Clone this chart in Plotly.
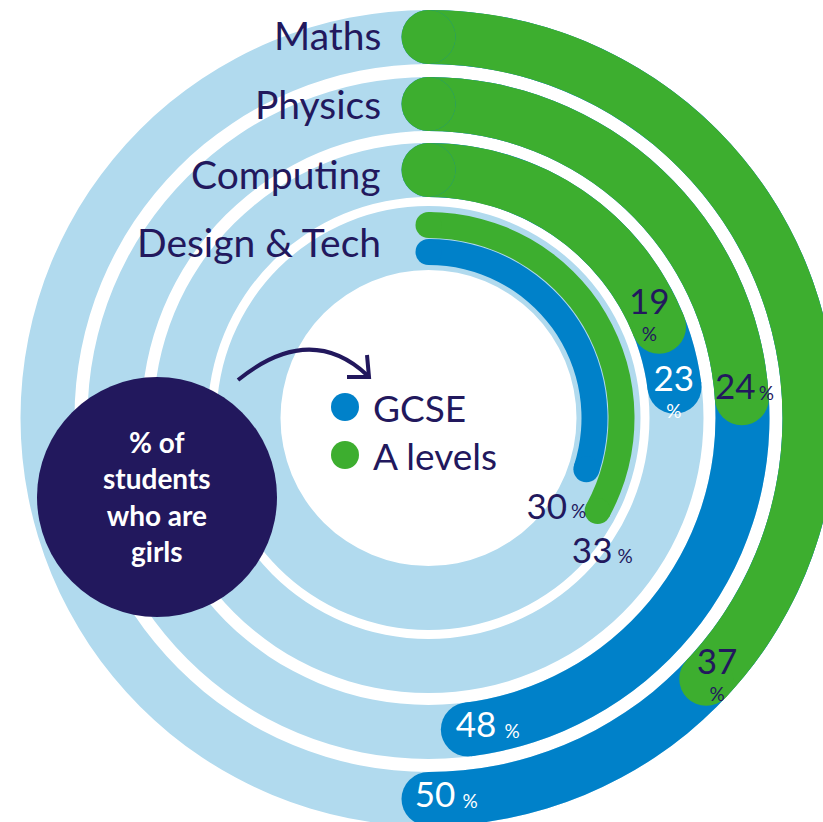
import math
import plotly.graph_objects as go

# ---------------- data ----------------
subjects = ["Maths", "Physics", "Computing", "Design & Tech"]
gcse = [50, 48, 23, 30]          # % of GCSE students who are girls
a_levels = [37, 24, 19, 33]      # % of A level students who are girls
series_names = ["GCSE", "A levels"]
center_text = "% of<br>students<br>who are<br>girls"

# ---------------- style ----------------
NAVY = "#22185D"
BLUE = "#0081C9"
GREEN = "#3DAE2F"
LIGHT = "#B1DAEE"
FONT = "Lato"

W, H = 857, 836          # figure slightly larger than the window -> cropped like the reference


def px(x, y):
    return x / W, 1 - y / H


def ang(v):
    return v / 100 * 360


track_in = [354, 287, 221, 148]
track_out = [408, 341, 275, 212]
gcse_in = [354, 287, 221, 153]
gcse_out = [408, 341, 275, 179]
al_in = [354, 287, 221, 180]
al_out = [408, 341, 275, 206]

fig = go.Figure()

# light-blue tracks
fig.add_trace(go.Barpolar(
    theta=[180] * 4, width=[360] * 4, base=track_in,
    r=[o - i for o, i in zip(track_out, track_in)],
    marker=dict(color=LIGHT, line=dict(width=0)), hoverinfo="skip", showlegend=False))


def add_series(vals, r_in, r_out, color, name):
    fig.add_trace(go.Barpolar(
        theta=[ang(v) / 2 for v in vals], width=[ang(v) for v in vals], base=r_in,
        r=[o - i for o, i in zip(r_out, r_in)], name=name, customdata=subjects,
        hovertemplate="%{customdata}: %{text}<extra>" + name + "</extra>",
        text=[f"{v}%" for v in vals],
        marker=dict(color=color, line=dict(width=0)), showlegend=False))
    mids = [(o + i) / 2 for o, i in zip(r_out, r_in)]
    thick = [o - i for o, i in zip(r_out, r_in)]
    fig.add_trace(go.Scatterpolar(
        r=mids + mids, theta=[0] * len(vals) + [ang(v) for v in vals],
        mode="markers",
        marker=dict(color=color, size=thick + thick, opacity=1, line=dict(width=0)),
        hoverinfo="skip", showlegend=False))


add_series(gcse, gcse_in, gcse_out, BLUE, series_names[0])
add_series(a_levels, al_in, al_out, GREEN, series_names[1])


def offset_polar(r, th, dx, dy):
    """polar position shifted by (dx, dy) screen pixels (1 radial unit == 1 px)."""
    t = math.radians(th)
    x = r * math.sin(t) + dx
    y = -r * math.cos(t) + dy
    return math.hypot(x, y), math.degrees(math.atan2(x, -y))


def add_labels(vals, dth, rr, pct_off, colors):
    num_r, num_t, pr, pt = [], [], [], []
    for v, d, r, (dx, dy) in zip(vals, dth, rr, pct_off):
        t = ang(v) + d
        num_r.append(r)
        num_t.append(t)
        a, b = offset_polar(r, t, dx, dy)
        pr.append(a)
        pt.append(b)
    fig.add_trace(go.Scatterpolar(
        r=num_r, theta=num_t, mode="text", text=[str(v) for v in vals],
        textfont=dict(family=FONT, size=35, color=colors),
        textposition="middle center", hoverinfo="skip", showlegend=False))
    fig.add_trace(go.Scatterpolar(
        r=pr, theta=pt, mode="text", text=["%"] * len(vals),
        textfont=dict(family=FONT, size=19, color=colors),
        textposition="middle center", hoverinfo="skip", showlegend=False))


add_labels(gcse, [-1, -1.5, -1.2, 20], [380, 314, 248, 150],
           [(35, 5), (36, 5), (0, 31), (32, 3)], ["white", "white", "white", NAVY])
add_labels(a_levels, [-2.6, -1.5, -5.5, 11], [380, 308, 248, 213],
           [(0, 31), (31, 5), (0, 31), (33, 4)], [NAVY] * 4)

annotations = []
# subject labels
for s, y in zip(subjects, [35, 104, 174, 242]):
    x0, y0 = px(383, y)
    annotations.append(dict(x=x0, y=y0, xref="paper", yref="paper", text=s, showarrow=False,
                            xanchor="right", yanchor="middle",
                            font=dict(family=FONT, size=39, color=NAVY)))
# legend texts
for s, y in zip(series_names, [407, 455]):
    x0, y0 = px(371, y)
    annotations.append(dict(x=x0, y=y0, xref="paper", yref="paper", text=s, showarrow=False,
                            xanchor="left", yanchor="middle",
                            font=dict(family=FONT, size=37, color=NAVY)))
# centre badge text
cx, cy = px(157, 496)
annotations.append(dict(x=cx, y=cy, xref="paper", yref="paper", text="<b>" + center_text + "</b>",
                        showarrow=False, xanchor="center", yanchor="middle",
                        font=dict(family=FONT, size=28, color="white")))

shapes = []
# legend dots
for c, y in zip([BLUE, GREEN], [407, 455]):
    a0, b0 = px(331, y + 14)
    a1, b1 = px(359, y - 14)
    shapes.append(dict(type="circle", xref="paper", yref="paper", x0=a0, y0=b0, x1=a1, y1=b1,
                       fillcolor=c, line=dict(width=0)))
# badge circle
a0, b0 = px(37, 617)
a1, b1 = px(277, 377)
shapes.append(dict(type="circle", xref="paper", yref="paper", x0=a0, y0=b0, x1=a1, y1=b1,
                   fillcolor=NAVY, line=dict(width=0)))


def P(x, y):
    a, b = px(x, y)
    return f"{a:.5f},{b:.5f}"


arrow = f"M {P(238, 380)} Q {P(310, 322)} {P(367, 375)}"
head = f"M {P(367, 355)} L {P(369, 377)} L {P(347, 377)}"
for p in (arrow, head):
    shapes.append(dict(type="path", xref="paper", yref="paper", path=p,
                       line=dict(color=NAVY, width=4)))

fig.update_layout(
    width=W, height=H, margin=dict(l=0, r=0, t=0, b=0),
    paper_bgcolor="white", plot_bgcolor="white",
    polar=dict(
        domain=dict(x=[0, 1], y=[0, 1]), bgcolor="white",
        radialaxis=dict(range=[0, 418], visible=False, showgrid=False),
        angularaxis=dict(rotation=90, direction="clockwise", visible=False, showgrid=False),
    ),
    annotations=annotations, shapes=shapes, showlegend=False,
    font=dict(family=FONT, color=NAVY),
)

fig.write_html("out.html", config={"displayModeBar": False}, post_script=(
    "document.body.style.margin='0';document.body.style.overflow='hidden';"
    "document.documentElement.style.overflow='hidden';"))
